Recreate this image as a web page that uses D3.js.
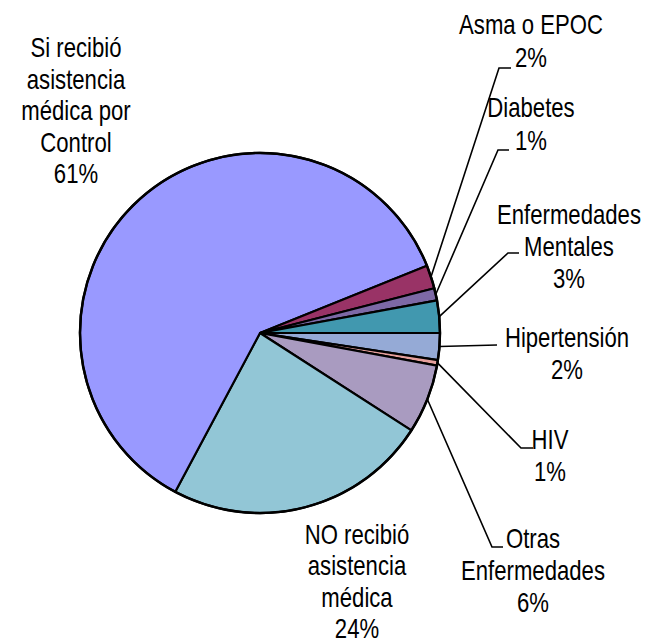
<!DOCTYPE html>
<html>
<head>
<meta charset="utf-8">
<script src="https://cdn.jsdelivr.net/npm/d3@7"></script>
<style>
  html, body { margin: 0; padding: 0; background: #fff; }
  #chart { width: 648px; height: 644px; }
  text { font-family: "Liberation Sans", Arial, sans-serif; font-size: 27px; fill: #000; }
</style>
</head>
<body>
<div id="chart"></div>
<script>
  // categories in drawing order, starting at 3 o'clock and going clockwise
  var categorias = ['Hipertensión', 'HIV', 'Otras Enfermedades', 'NO recibió asistencia médica',
    'Si recibió asistencia médica por Control', 'Asma o EPOC', 'Diabetes', 'Enfermedades Mentales'];
  var valores = [2.4, 0.5, 6.2, 23.7, 61.1, 2.1, 1.1, 2.9];
  var etiquetas = [
    ['Hipertensión', '2%'],
    ['HIV', '1%'],
    ['Otras', 'Enfermedades', '6%'],
    ['NO recibió', 'asistencia', 'médica', '24%'],
    ['Si recibió', 'asistencia', 'médica por', 'Control', '61%'],
    ['Asma o EPOC', '2%'],
    ['Diabetes', '1%'],
    ['Enfermedades', 'Mentales', '3%']
  ];
  var colores = ['#95AAD6', '#E6A09C', '#A99BC0', '#92C6D6', '#9999FF', '#993366', '#7D69A6', '#4198AF'];

  // label layout: text centre x, first baseline, line step; leader elbow
  var layout = [
    { x: 567, y: 347, dy: 32, codo: [[497, 345]] },
    { x: 550, y: 449, dy: 32, codo: [[521, 448], [533, 448]] },
    { x: 533, y: 548, dy: 32, codo: [[492, 547], [503, 547]] },
    { x: 357, y: 544, dy: 31.3, codo: null },
    { x: 76, y: 57, dy: 31.6, codo: null },
    { x: 531, y: 34, dy: 33, codo: [[499, 68], [511, 68]] },
    { x: 531, y: 117, dy: 33, codo: [[498, 150], [509, 150]] },
    { x: 569, y: 224, dy: 32, codo: [[508, 253], [519, 253]] }
  ];

  var cx = 260, cy = 333, radio = 180;

  var svg = d3.select('#chart').append('svg')
    .attr('width', 648)
    .attr('height', 644);

  var pie = d3.pie()
    .sort(null)
    .startAngle(Math.PI / 2)
    .endAngle(Math.PI / 2 + 2 * Math.PI)
    .value(function (d) { return d; });

  var arcs = pie(valores);

  var arc = d3.arc().innerRadius(0).outerRadius(radio);
  var arcBorde = d3.arc().innerRadius(radio).outerRadius(radio);

  var g = svg.append('g').attr('transform', 'translate(' + cx + ',' + cy + ')');

  g.selectAll('path.slice')
    .data(arcs)
    .enter()
    .append('path')
    .attr('class', 'slice')
    .attr('d', arc)
    .attr('fill', function (d, i) { return colores[i]; })
    .attr('stroke', '#000')
    .attr('stroke-width', 2.2)
    .attr('stroke-linejoin', 'round');

  g.append('circle')
    .attr('r', radio)
    .attr('fill', 'none')
    .attr('stroke', '#000')
    .attr('stroke-width', 2.5);

  // leader lines
  arcs.forEach(function (d, i) {
    var l = layout[i];
    if (!l.codo) return;
    var c = arcBorde.centroid(d);
    var pts = [[c[0] + cx, c[1] + cy]].concat(l.codo);
    svg.append('path')
      .attr('d', d3.line()(pts))
      .attr('fill', 'none')
      .attr('stroke', '#000')
      .attr('stroke-width', 1.6);
  });

  // labels (the source font is a narrow sans, so squeeze horizontally)
  etiquetas.forEach(function (lineas, i) {
    var l = layout[i];
    var t = svg.append('g')
      .attr('transform', 'translate(' + l.x + ',' + l.y + ') scale(0.82,1)')
      .append('text')
      .attr('text-anchor', 'middle');
    lineas.forEach(function (s, k) {
      t.append('tspan')
        .attr('x', 0)
        .attr('y', k * l.dy)
        .text(s);
    });
  });
</script>
</body>
</html>
